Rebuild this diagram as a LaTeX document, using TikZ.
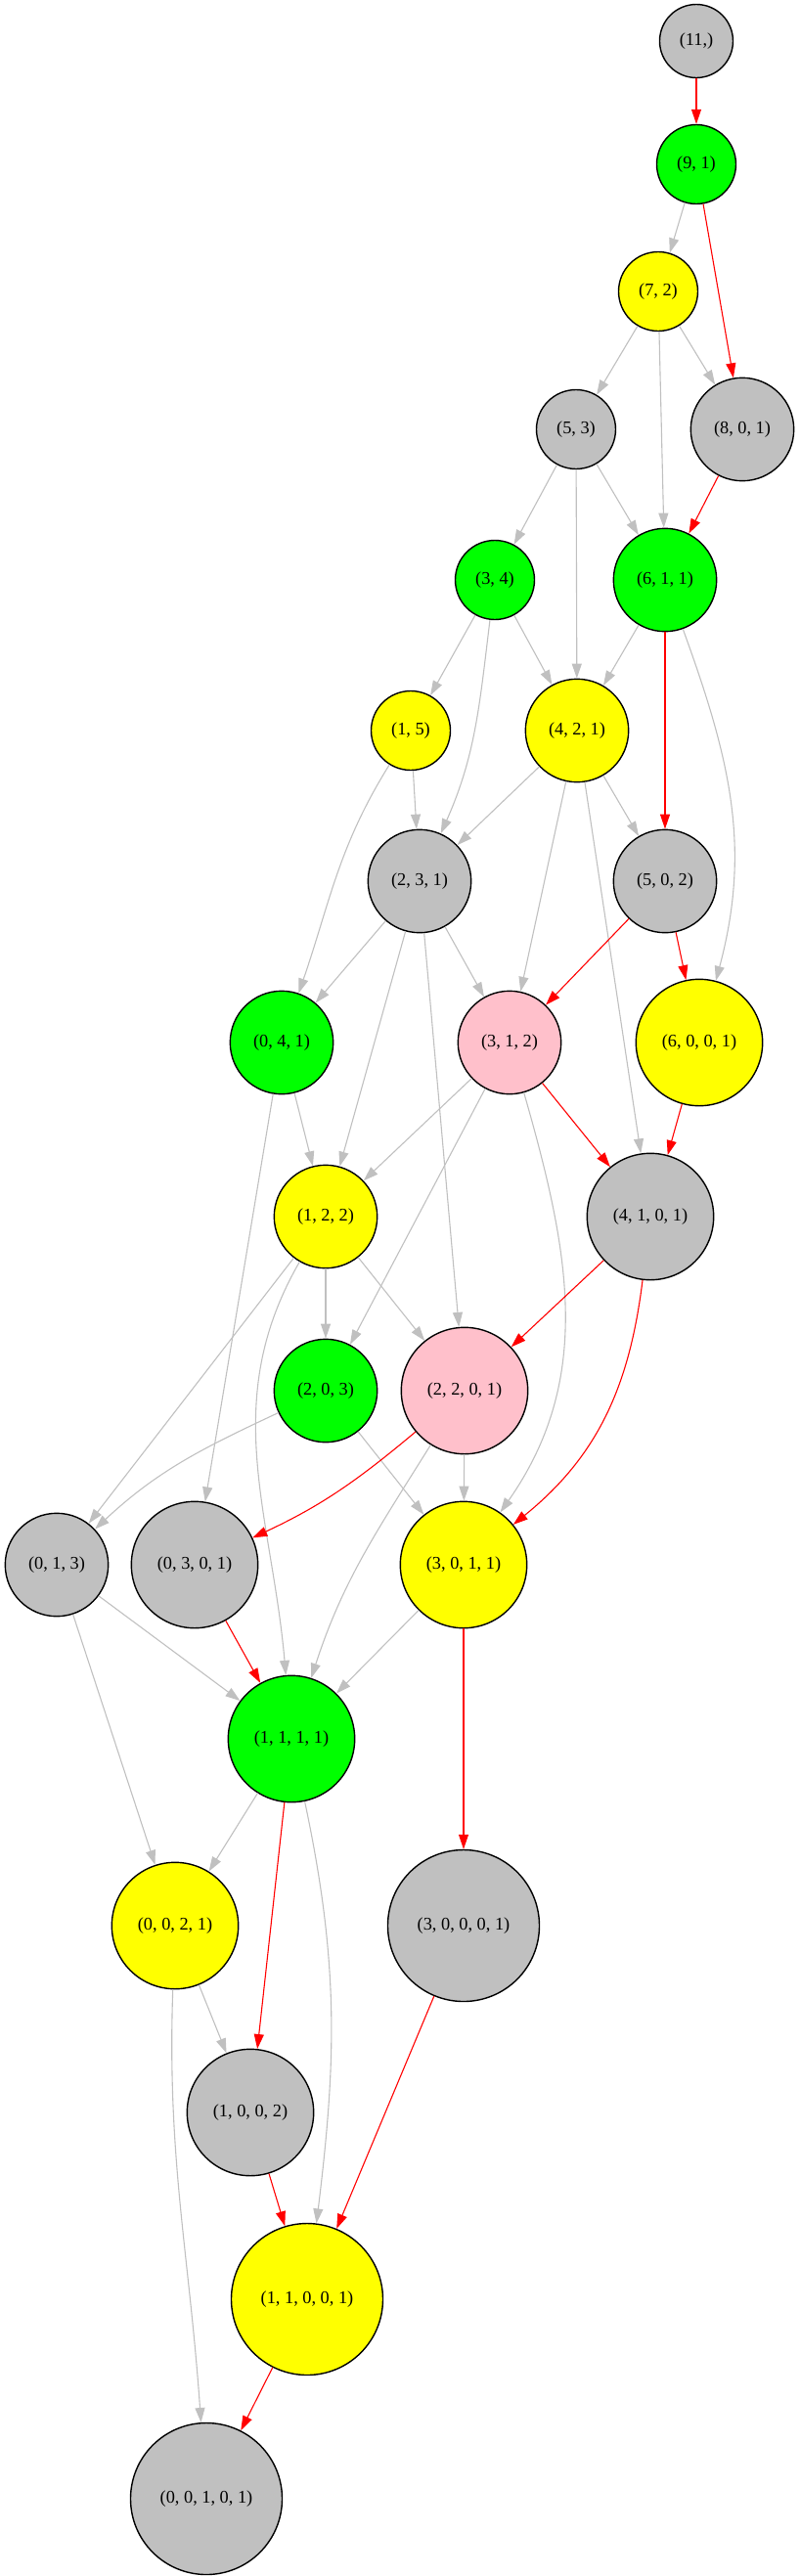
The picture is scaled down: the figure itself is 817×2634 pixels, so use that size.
\documentclass[tikz,border=0pt]{standalone}
\usepackage{fontspec}
\setmainfont{Liberation Serif}
\usetikzlibrary{arrows.meta}
\definecolor{fillgray}{HTML}{C0C0C0}
\definecolor{fillgreen}{HTML}{00FF00}
\definecolor{fillyellow}{HTML}{FFFF00}
\definecolor{fillpink}{HTML}{FFC0CB}
\definecolor{edgegray}{HTML}{C0C0C0}
\definecolor{edgered}{HTML}{FF0000}
\begin{document}
\begin{tikzpicture}[x=1pt,y=1pt,
    state/.style={circle,draw=black,line width=1.4pt,inner sep=0pt,
      font=\fontsize{18.3}{20}\selectfont},
    s1/.style={state,minimum size=75pt},
    s2/.style={state,minimum size=81pt},
    s3/.style={state,minimum size=105.4pt},
    s4/.style={state,minimum size=129.4pt},
    s5/.style={state,minimum size=155pt},
    gr/.style={fill=fillgray},
    gn/.style={fill=fillgreen},
    yl/.style={fill=fillyellow},
    pk/.style={fill=fillpink},
    gray edge/.style={draw=edgegray,line width=1.1pt,
      -{Triangle[length=15pt,width=10pt,fill=edgegray]}},
    red edge/.style={draw=edgered,line width=1.1pt,
      -{Triangle[length=15pt,width=10pt,fill=edgered]}}]
  \useasboundingbox (0,0) rectangle (817,-2634);
  % Nodes: partitions, one rank per line
  \node[s1,gr] (a11) at (712,-42) {(11,)};
  \node[s2,gn] (a91) at (712,-168) {(9, 1)};
  \node[s2,yl] (a72) at (673,-298) {(7, 2)};
  \node[s2,gr] (a53) at (589,-439) {(5, 3)};
  \node[s3,gr] (a801) at (759,-439) {(8, 0, 1)};
  \node[s2,gn] (a34) at (506,-593) {(3, 4)};
  \node[s3,gn] (a611) at (680,-593) {(6, 1, 1)};
  \node[s2,yl] (a15) at (420,-747) {(1, 5)};
  \node[s3,yl] (a421) at (590,-747) {(4, 2, 1)};
  \node[s3,gr] (a231) at (429,-901) {(2, 3, 1)};
  \node[s3,gr] (a502) at (680,-901) {(5, 0, 2)};
  \node[s3,gn] (a041) at (288,-1066) {(0, 4, 1)};
  \node[s3,pk] (a312) at (521,-1066) {(3, 1, 2)};
  \node[s4,yl] (a6001) at (715,-1066) {(6, 0, 0, 1)};
  \node[s3,yl] (a122) at (333,-1244) {(1, 2, 2)};
  \node[s4,gr] (a4101) at (665,-1244) {(4, 1, 0, 1)};
  \node[s3,gn] (a203) at (333,-1422) {(2, 0, 3)};
  \node[s4,pk] (a2201) at (475,-1422) {(2, 2, 0, 1)};
  \node[s3,gr] (a013) at (58,-1600) {(0, 1, 3)};
  \node[s4,gr] (a0301) at (199,-1600) {(0, 3, 0, 1)};
  \node[s4,yl] (a3011) at (474,-1600) {(3, 0, 1, 1)};
  \node[s4,gn] (a1111) at (298,-1778) {(1, 1, 1, 1)};
  \node[s4,yl] (a0021) at (179,-1969) {(0, 0, 2, 1)};
  \node[s5,gr] (a30001) at (474,-1969) {(3, 0, 0, 0, 1)};
  \node[s4,gr] (a1002) at (256,-2160) {(1, 0, 0, 2)};
  \node[s5,yl] (a11001) at (314,-2351) {(1, 1, 0, 0, 1)};
  \node[s5,gr] (a00101) at (211,-2555) {(0, 0, 1, 0, 1)};
  % Arrows: top part
  \draw[red edge] (a11) -- (a91);
  \draw[gray edge] (a91) -- (a72);
  \draw[red edge] (a91) -- (a801);
  \draw[gray edge] (a72) -- (a53);
  \draw[gray edge] (a72) -- (a801);
  \draw[gray edge] (a72) -- (a611);
  \draw[gray edge] (a53) -- (a34);
  \draw[gray edge] (a53) -- (a421);
  \draw[gray edge] (a53) -- (a611);
  \draw[red edge] (a801) -- (a611);
  \draw[gray edge] (a34) -- (a15);
  \draw[gray edge] (a34) to[out=-97,in=66] (a231);
  \draw[gray edge] (a34) -- (a421);
  \draw[gray edge] (a611) -- (a421);
  \draw[red edge] (a611) -- (a502);
  \draw[gray edge] (a611) to[out=-70,in=75] (a6001);
  \draw[gray edge] (a15) -- (a231);
  \draw[gray edge] (a15) to[out=-122,in=71] (a041);
  \draw[gray edge] (a421) -- (a231);
  \draw[gray edge] (a421) -- (a502);
  \draw[gray edge] (a421) -- (a312);
  \draw[gray edge] (a421) -- (a4101);
  % Arrows: middle part
  \draw[gray edge] (a231) -- (a041);
  \draw[gray edge] (a231) -- (a122);
  \draw[gray edge] (a231) -- (a2201);
  \draw[gray edge] (a231) -- (a312);
  \draw[red edge] (a502) -- (a312);
  \draw[red edge] (a502) -- (a6001);
  \draw[gray edge] (a041) -- (a122);
  \draw[gray edge] (a041) -- (a0301);
  \draw[gray edge] (a312) -- (a122);
  \draw[gray edge] (a312) -- (a203);
  \draw[gray edge] (a312) to[out=-74,in=55] (a3011);
  \draw[red edge] (a312) -- (a4101);
  \draw[red edge] (a6001) -- (a4101);
  \draw[gray edge] (a122) -- (a013);
  \draw[gray edge] (a122) to[out=-120,in=95] (a1111);
  \draw[gray edge] (a122) -- (a203);
  \draw[gray edge] (a122) -- (a2201);
  \draw[red edge] (a4101) -- (a2201);
  \draw[red edge] (a4101) to[out=-97,in=39] (a3011);
  \draw[gray edge] (a203) to[out=-155,in=43] (a013);
  \draw[gray edge] (a203) -- (a3011);
  \draw[red edge] (a2201) to[out=-140,in=25] (a0301);
  \draw[gray edge] (a2201) to[out=-122,in=72] (a1111);
  \draw[gray edge] (a2201) -- (a3011);
  % Arrows: bottom part
  \draw[gray edge] (a013) -- (a1111);
  \draw[gray edge] (a013) -- (a0021);
  \draw[red edge] (a0301) -- (a1111);
  \draw[gray edge] (a3011) -- (a1111);
  \draw[red edge] (a3011) -- (a30001);
  \draw[gray edge] (a1111) -- (a0021);
  \draw[red edge] (a1111) -- (a1002);
  \draw[gray edge] (a1111) to[out=-78,in=83] (a11001);
  \draw[gray edge] (a0021) -- (a1002);
  \draw[gray edge] (a0021) to[out=-92,in=94] (a00101);
  \draw[red edge] (a1002) -- (a11001);
  \draw[red edge] (a30001) -- (a11001);
  \draw[red edge] (a11001) -- (a00101);
\end{tikzpicture}
\end{document}
